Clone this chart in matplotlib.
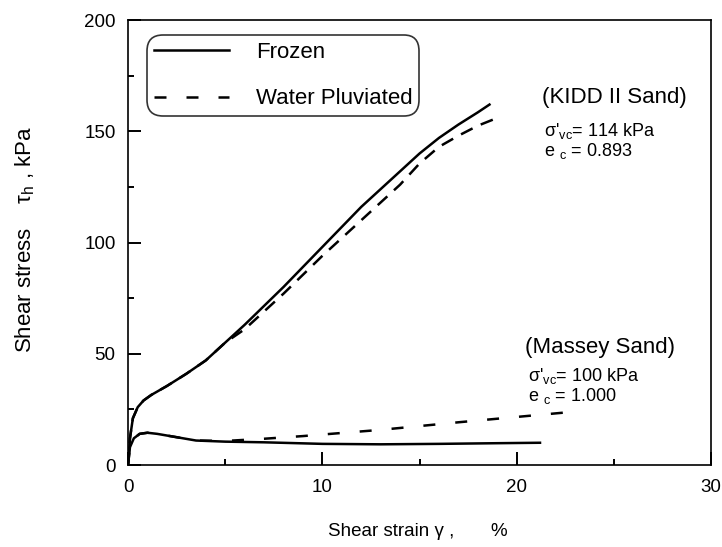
import matplotlib.pyplot as plt
from matplotlib.ticker import MultipleLocator

plt.rcParams['font.family'] = ['Liberation Sans', 'DejaVu Sans']
plt.rcParams['mathtext.fontset'] = 'custom'
plt.rcParams['mathtext.rm'] = 'Liberation Sans'
plt.rcParams['mathtext.it'] = 'Liberation Sans'
plt.rcParams['mathtext.default'] = 'regular'

# KIDD II Sand
kidd_frozen_x = [0, 0.1, 0.25, 0.5, 0.8, 1.2, 2, 3, 4, 5, 6, 8, 10, 12, 13, 14, 15, 16, 17, 18, 18.6]
kidd_frozen_y = [0, 12, 21, 26, 29, 31.5, 35.5, 41, 47, 55, 63, 80, 98, 116, 124, 132, 140, 147, 153, 158.5, 162]
kidd_water_x = [0, 0.1, 0.25, 0.5, 0.8, 1.2, 2, 3, 4, 5, 6, 8, 10, 12, 13, 14, 15, 16, 17, 18, 19]
kidd_water_y = [0, 12, 21, 26, 29, 31.5, 35.5, 41, 47, 55, 61, 77, 94, 110, 118, 126, 135.5, 143, 148, 152.5, 156]

# Massey Sand
massey_frozen_x = [0, 0.1, 0.3, 0.6, 1, 1.5, 2.5, 3.5, 5, 7, 10, 13, 16, 19, 21.2]
massey_frozen_y = [0, 8, 12, 14, 14.5, 14, 12.5, 11, 10.5, 10.2, 9.5, 9.3, 9.5, 9.8, 10]
massey_water_x = [0, 0.1, 0.3, 0.6, 1, 1.5, 2.5, 3.5, 5, 7, 9, 11, 13, 15, 17, 19, 21, 23]
massey_water_y = [0, 8, 12, 14, 14.5, 14, 12.5, 11, 10.8, 11.8, 13, 14.4, 15.8, 17.5, 19.2, 20.8, 22.4, 24]

fig = plt.figure(figsize=(7.22, 5.47), dpi=100)
ax = fig.add_axes([0.1773, 0.1499, 0.8075, 0.8135])

lw = 1.8
dash_kidd = (5.2, 3.6)
dash_massey = (4.8, 8.0)
l1, = ax.plot(kidd_frozen_x, kidd_frozen_y, color='k', lw=lw, label='Frozen')
ax.plot(kidd_water_x, kidd_water_y, color='k', lw=lw, ls=(0, dash_kidd))
ax.plot(massey_frozen_x, massey_frozen_y, color='k', lw=lw)
l2, = ax.plot(massey_water_x, massey_water_y, color='k', lw=lw, ls=(0, dash_massey),
              label='Water Pluviated')

ax.set_xlim(0, 30)
ax.set_ylim(0, 200)
ax.xaxis.set_major_locator(MultipleLocator(10))
ax.xaxis.set_minor_locator(MultipleLocator(5))
ax.yaxis.set_major_locator(MultipleLocator(50))
ax.yaxis.set_minor_locator(MultipleLocator(25))
ax.tick_params(which='both', direction='in', labelsize=13.5, width=1.4)
ax.tick_params(which='major', length=9.4)
ax.tick_params(which='minor', length=4.3)
ax.tick_params(axis='x', pad=10)
ax.tick_params(axis='y', pad=9)
for s in ax.spines.values():
    s.set_linewidth(1.2)

ax.set_xlabel('Shear strain \u03b3 ,       %', fontsize=13.5)
ax.xaxis.set_label_coords(0.497, -0.130)
ax.set_ylabel('Shear stress    \u03c4$_h$ , kPa', fontsize=16)
ax.yaxis.set_label_coords(-0.156, 0.506)

leg = ax.legend(handles=[l1, l2], loc='upper left', bbox_to_anchor=(0.0326, 0.966),
                borderaxespad=0, fontsize=16, frameon=True, fancybox=True,
                handlelength=3.4, handletextpad=1.2, borderpad=0.3, labelspacing=1.15)
leg.get_frame().set_edgecolor('k')
leg.get_frame().set_linewidth(1.2)
leg.get_frame().set_boxstyle('round', pad=0.0, rounding_size=0.7)

ax.text(21.3, 165, '(KIDD II Sand)', fontsize=16, ha='left', va='center')
ax.text(21.4, 150, "\u03c3'$_{vc}$= 114 kPa", fontsize=13, ha='left', va='center')
ax.text(21.4, 141, 'e $_c$ = 0.893', fontsize=13, ha='left', va='center')

ax.text(20.45, 53, '(Massey Sand)', fontsize=16, ha='left', va='center')
ax.text(20.6, 40, "\u03c3'$_{vc}$= 100 kPa", fontsize=13, ha='left', va='center')
ax.text(20.6, 31, 'e $_c$ = 1.000', fontsize=13, ha='left', va='center')

fig.savefig('out.png', dpi=100)
